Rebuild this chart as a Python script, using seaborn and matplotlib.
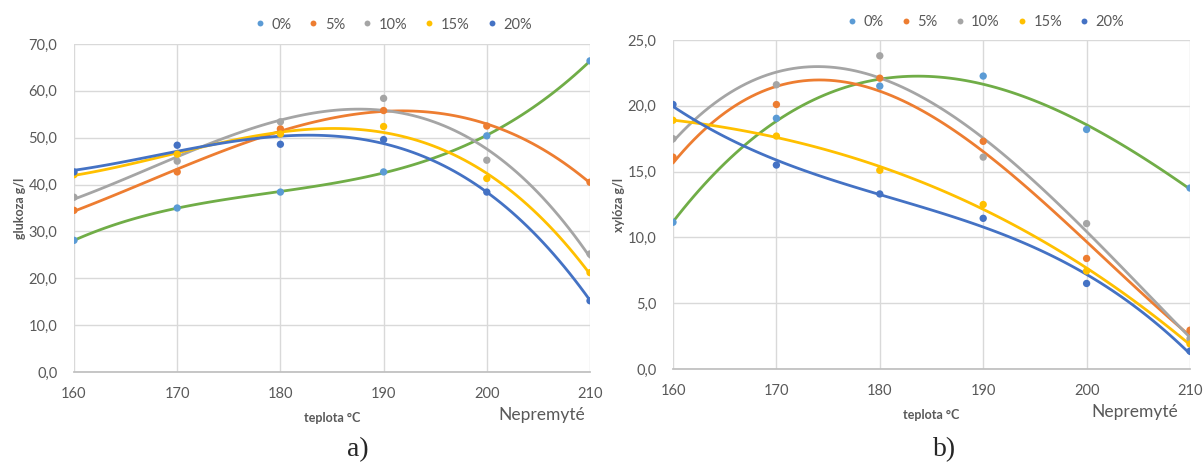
import numpy as np
import pandas as pd
import matplotlib
matplotlib.use("Agg")
import matplotlib.pyplot as plt
from matplotlib.ticker import FuncFormatter
import seaborn as sns

temps = [160, 170, 180, 190, 200, 210]
series = ["0%", "5%", "10%", "15%", "20%"]

glukoza_0 = [28.1, 35.0, 38.4, 42.7, 50.4, 66.4]
glukoza_5 = [34.5, 42.7, 51.9, 55.8, 52.5, 40.5]
glukoza_10 = [37.3, 45.0, 53.4, 58.4, 45.2, 25.2]
glukoza_15 = [42.1, 46.5, 50.8, 52.4, 41.3, 21.2]
glukoza_20 = [42.7, 48.4, 48.6, 49.6, 38.4, 15.2]

xyloza_0 = [11.15, 19.05, 21.5, 22.26, 18.2, 13.75]
xyloza_5 = [16.1, 20.1, 22.1, 17.3, 8.4, 2.95]
xyloza_10 = [17.5, 21.6, 23.8, 16.1, 11.05, 2.3]
xyloza_15 = [18.9, 17.7, 15.1, 12.5, 7.45, 1.9]
xyloza_20 = [20.1, 15.5, 13.3, 11.45, 6.5, 1.36]

marker_colors = ["#5B9BD5", "#ED7D31", "#A5A5A5", "#FFC000", "#4472C4"]
trend_colors = ["#70AD47", "#ED7D31", "#A5A5A5", "#FFC000", "#4472C4"]

sns.set_theme(style="white")
plt.rcParams['font.family'] = ['Lato', 'DejaVu Sans']

def make_df(lists):
    rows = []
    for name, vals in zip(series, lists):
        for t, v in zip(temps, vals):
            rows.append({"teplota": t, "value": v, "series": name})
    return pd.DataFrame(rows)

fig = plt.figure(figsize=(12.03, 4.65), dpi=100)
ax1 = fig.add_axes([74/1203, 1-372/465, (590-74)/1203, (372-44)/465])
ax2 = fig.add_axes([673/1203, 1-369/465, (1190-673)/1203, (369-40)/465])

def draw(ax, lists, ymax, ystep, ylabel, order, caption, cx, legx, nepx, legy):
    df = make_df(lists)
    for name, tc in zip(series, trend_colors):
        sub = df[df.series == name]
        sns.regplot(data=sub, x="teplota", y="value", order=order, ci=None,
                    scatter=False, ax=ax, line_kws=dict(color=tc, lw=2.0, zorder=2))
    sns.scatterplot(data=df, x="teplota", y="value", hue="series",
                    palette=marker_colors, hue_order=series, s=28,
                    edgecolor="none", ax=ax, zorder=3, legend=True)
    ax.set_xlim(160, 210)
    ax.set_ylim(0, ymax)
    ax.set_xticks(temps)
    ax.set_yticks(np.arange(0, ymax + 0.01, ystep))
    ax.yaxis.set_major_formatter(FuncFormatter(lambda v, p: f"{v:.1f}".replace(".", ",")))
    ax.grid(True, color="#D9D9D9", lw=1.0)
    for s in ["top", "right", "left"]:
        ax.spines[s].set_visible(False)
    ax.spines["bottom"].set_color("#BFBFBF")
    ax.tick_params(axis="both", length=0, labelsize=10.5, labelcolor="#595959")
    ax.tick_params(axis="x", pad=11)
    ax.tick_params(axis="y", pad=12)
    ax.set_xlabel("teplota °C", fontsize=9, fontweight="bold", color="#595959", labelpad=8)
    ax.set_ylabel(ylabel, fontsize=9, fontweight="bold", color="#595959", labelpad=2)
    ax.legend(loc="lower center", bbox_to_anchor=(legx, legy), ncol=5, frameon=False,
              fontsize=10.5, labelcolor="#595959", handlelength=0.8, handletextpad=0.4,
              columnspacing=1.1, markerscale=0.8, borderaxespad=0, borderpad=0)
    ax.text(nepx, -0.131, "Nepremyté", transform=ax.transAxes, ha="right", va="center",
            fontsize=12.5, color="#595959")
    fig.text(cx, 0.006, caption, ha="center", va="bottom", fontsize=20,
             family=["Liberation Serif", "DejaVu Serif"])

draw(ax1, [glukoza_0, glukoza_5, glukoza_10, glukoza_15, glukoza_20], 70, 10,
     "glukoza g/l", 3, "a)", 358/1203, 0.618, 0.99, 1.038)
draw(ax2, [xyloza_0, xyloza_5, xyloza_10, xyloza_15, xyloza_20], 25, 5,
     "xylóza g/l", 3, "b)", 945/1203, 0.604, 0.977, 1.032)

fig.savefig("out.png", dpi=100)
